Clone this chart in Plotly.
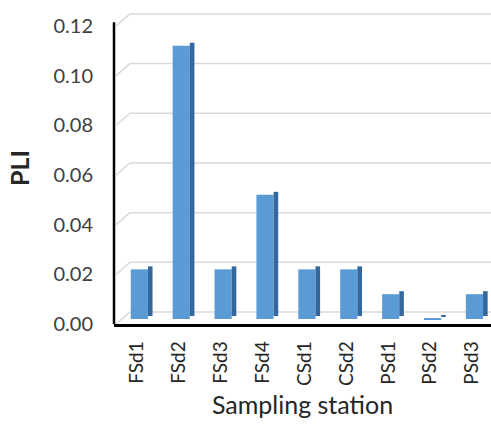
import plotly.graph_objects as go

stations = ["FSd1", "FSd2", "FSd3", "FSd4", "CSd1", "CSd2", "PSd1", "PSd2", "PSd3"]
pli = [0.02, 0.11, 0.02, 0.05, 0.02, 0.02, 0.01, 0.0003, 0.01]
y_ticks = [0.00, 0.02, 0.04, 0.06, 0.08, 0.10, 0.12]
y_tick_text = ["0.00", "0.02", "0.04", "0.06", "0.08", "0.10", "0.12"]

FONT = "Lato, 'Open Sans', sans-serif"
FRONT = "#5B9BD5"
SIDE = "#34679E"
GRID = "#d9d9d9"

Y_TOP = 0.1256          # main axis top so 0.12 sits below the back wall top
BACK_SHIFT = 0.00483    # back-wall offset of gridlines (3D look)

fig = go.Figure()

# front faces of bars
fig.add_trace(go.Bar(
    x=stations, y=pli, yaxis="y2",
    marker=dict(color=FRONT, line=dict(width=0)),
    offset=-0.15, width=0.41, showlegend=False, hoverinfo="skip"))
# side faces (darker, slightly raised for depth)
fig.add_trace(go.Bar(
    x=stations, y=pli, yaxis="y3",
    marker=dict(color=SIDE, line=dict(width=0)),
    offset=0.26, width=0.11, showlegend=False, hoverinfo="skip"))

shapes = []
for v in y_ticks:
    # back-wall gridline
    shapes.append(dict(type="line", layer="below", xref="paper", yref="y",
                       x0=0.042, x1=1.0, y0=v + BACK_SHIFT, y1=v + BACK_SHIFT,
                       line=dict(color=GRID, width=1.5)))
    # floor/side diagonal from axis to back wall
    shapes.append(dict(type="line", layer="below", xref="paper", yref="y",
                       x0=0.006, x1=0.042, y0=v, y1=v + BACK_SHIFT,
                       line=dict(color=GRID, width=1.5)))
# y axis line
shapes.append(dict(type="line", xref="paper", yref="y", x0=0, x1=0,
                   y0=0, y1=0.1215, line=dict(color="black", width=2.5)))

fig.update_layout(
    width=491, height=424, autosize=False,
    margin=dict(l=114, r=0, t=12, b=100),
    paper_bgcolor="white", plot_bgcolor="white",
    barmode="overlay",
    font=dict(family=FONT, color="#404040"),
    shapes=shapes,
    xaxis=dict(
        range=[-0.55, 8.45], showgrid=False, zeroline=False, automargin=False,
        showline=True, linecolor="black", linewidth=2.5,
        ticks="", tickangle=-90, ticklabelstandoff=7,
        tickfont=dict(size=19, color="#262626", family=FONT),
        title=dict(text="Sampling station", standoff=12,
                   font=dict(size=25, color="#262626", family=FONT)),
    ),
    yaxis=dict(
        range=[0, Y_TOP], showgrid=False, zeroline=False, showline=False,
        automargin=False,
        tickvals=y_ticks, ticktext=y_tick_text, ticks="",
        ticklabelstandoff=20,
        tickfont=dict(size=20, color="#404040", family=FONT),
        title=dict(text="<b>PLI</b>", standoff=16,
                   font=dict(size=25, color="#262626", family=FONT)),
    ),
    yaxis2=dict(range=[-0.002, Y_TOP - 0.002], overlaying="y", visible=False),
    yaxis3=dict(range=[-0.0032, Y_TOP - 0.0032], overlaying="y", visible=False),
)

fig.write_html(
    "out.html",
    config={"displayModeBar": False},
    post_script="document.body.style.margin='0';document.body.style.overflow='hidden';",
)
